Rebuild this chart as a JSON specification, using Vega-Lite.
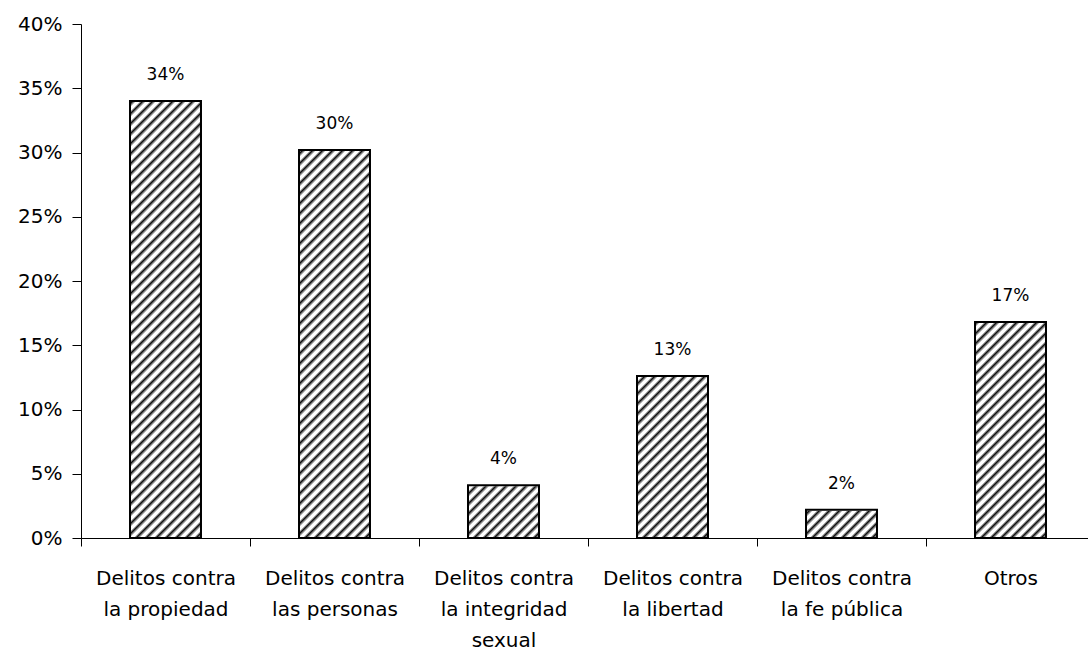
{
  "$schema": "https://vega.github.io/schema/vega-lite/v6.json",
  "autosize": "none",
  "padding": {"left": 81, "top": 24, "right": 0, "bottom": 114},
  "width": 1007,
  "height": 514,
  "background": "white",
  "config": {"view": {"stroke": null}, "font": "DejaVu Sans"},
  "data": {
    "values": [
      {"cat": "Delitos contra la propiedad", "v": 0.340},
      {"cat": "Delitos contra las personas", "v": 0.302},
      {"cat": "Delitos contra la integridad sexual", "v": 0.041},
      {"cat": "Delitos contra la libertad", "v": 0.126},
      {"cat": "Delitos contra la fe pública", "v": 0.022},
      {"cat": "Otros", "v": 0.168}
    ]
  },
  "encoding": {
    "x": {
      "field": "cat",
      "type": "nominal",
      "sort": null,
      "title": null,
      "scale": {"range": [0, 1014], "paddingInner": 0.58, "paddingOuter": 0.29},
      "axis": {
        "labelAngle": 0,
        "tickOffset": -84.5,
        "labelOffset": 84.5,
        "tickSize": 8,
        "labelPadding": 22,
        "labelFont": "DejaVu Sans",
        "labelFontSize": 20,
        "labelColor": "#000",
        "labelLineHeight": 31,
        "labelLimit": 300,
        "labelOverlap": false,
        "domainColor": "#000",
        "tickColor": "#000",
        "labelExpr": "datum.label == 'Otros' ? 'Otros' : (datum.label == 'Delitos contra la integridad sexual' ? ['Delitos contra', 'la integridad', 'sexual'] : ['Delitos contra', replace(datum.label, 'Delitos contra ', '')])"
      }
    },
    "y": {
      "field": "v",
      "type": "quantitative",
      "title": null,
      "scale": {"domain": [0, 0.4]},
      "axis": {
        "format": ".0%",
        "tickCount": 8,
        "grid": false,
        "tickSize": 9,
        "labelPadding": 10,
        "labelFont": "DejaVu Sans",
        "labelFontSize": 20,
        "labelColor": "#000",
        "domainColor": "#000",
        "tickColor": "#000"
      }
    }
  },
  "layer": [
    {
      "mark": {"type": "bar", "fill": "#9a9a9a", "strokeWidth": 0},
      "encoding": {
        "y": {"datum": 0.4, "type": "quantitative", "title": null},
        "y2": {"datum": 0}
      }
    },
    {
      "mark": {
        "type": "bar",
        "strokeWidth": 0,
        "fill": {
          "gradient": "linear",
          "x1": 0, "y1": 0, "x2": 0.26371, "y2": 1.9091,
          "stops": [
            {"offset": 0, "color": "#111"}, {"offset": 0.004, "color": "#fff"}, {"offset": 0.007, "color": "#fff"},
            {"offset": 0.01, "color": "#111"}, {"offset": 0.014, "color": "#fff"}, {"offset": 0.017, "color": "#fff"},
            {"offset": 0.02, "color": "#111"}, {"offset": 0.024, "color": "#fff"}, {"offset": 0.027, "color": "#fff"},
            {"offset": 0.03, "color": "#111"}, {"offset": 0.034, "color": "#fff"}, {"offset": 0.037, "color": "#fff"},
            {"offset": 0.04, "color": "#111"}, {"offset": 0.044, "color": "#fff"}, {"offset": 0.047, "color": "#fff"},
            {"offset": 0.05, "color": "#111"}, {"offset": 0.054, "color": "#fff"}, {"offset": 0.057, "color": "#fff"},
            {"offset": 0.06, "color": "#111"}, {"offset": 0.064, "color": "#fff"}, {"offset": 0.067, "color": "#fff"},
            {"offset": 0.07, "color": "#111"}, {"offset": 0.074, "color": "#fff"}, {"offset": 0.077, "color": "#fff"},
            {"offset": 0.08, "color": "#111"}, {"offset": 0.084, "color": "#fff"}, {"offset": 0.087, "color": "#fff"},
            {"offset": 0.09, "color": "#111"}, {"offset": 0.094, "color": "#fff"}, {"offset": 0.097, "color": "#fff"},
            {"offset": 0.10, "color": "#111"}, {"offset": 0.104, "color": "#fff"}, {"offset": 0.107, "color": "#fff"},
            {"offset": 0.11, "color": "#111"}, {"offset": 0.114, "color": "#fff"}, {"offset": 0.117, "color": "#fff"},
            {"offset": 0.12, "color": "#111"}, {"offset": 0.124, "color": "#fff"}, {"offset": 0.127, "color": "#fff"},
            {"offset": 0.13, "color": "#111"}, {"offset": 0.134, "color": "#fff"}, {"offset": 0.137, "color": "#fff"},
            {"offset": 0.14, "color": "#111"}, {"offset": 0.144, "color": "#fff"}, {"offset": 0.147, "color": "#fff"},
            {"offset": 0.15, "color": "#111"}, {"offset": 0.154, "color": "#fff"}, {"offset": 0.157, "color": "#fff"},
            {"offset": 0.16, "color": "#111"}, {"offset": 0.164, "color": "#fff"}, {"offset": 0.167, "color": "#fff"},
            {"offset": 0.17, "color": "#111"}, {"offset": 0.174, "color": "#fff"}, {"offset": 0.177, "color": "#fff"},
            {"offset": 0.18, "color": "#111"}, {"offset": 0.184, "color": "#fff"}, {"offset": 0.187, "color": "#fff"},
            {"offset": 0.19, "color": "#111"}, {"offset": 0.194, "color": "#fff"}, {"offset": 0.197, "color": "#fff"},
            {"offset": 0.20, "color": "#111"}, {"offset": 0.204, "color": "#fff"}, {"offset": 0.207, "color": "#fff"},
            {"offset": 0.21, "color": "#111"}, {"offset": 0.214, "color": "#fff"}, {"offset": 0.217, "color": "#fff"},
            {"offset": 0.22, "color": "#111"}, {"offset": 0.224, "color": "#fff"}, {"offset": 0.227, "color": "#fff"},
            {"offset": 0.23, "color": "#111"}, {"offset": 0.234, "color": "#fff"}, {"offset": 0.237, "color": "#fff"},
            {"offset": 0.24, "color": "#111"}, {"offset": 0.244, "color": "#fff"}, {"offset": 0.247, "color": "#fff"},
            {"offset": 0.25, "color": "#111"}, {"offset": 0.254, "color": "#fff"}, {"offset": 0.257, "color": "#fff"},
            {"offset": 0.26, "color": "#111"}, {"offset": 0.264, "color": "#fff"}, {"offset": 0.267, "color": "#fff"},
            {"offset": 0.27, "color": "#111"}, {"offset": 0.274, "color": "#fff"}, {"offset": 0.277, "color": "#fff"},
            {"offset": 0.28, "color": "#111"}, {"offset": 0.284, "color": "#fff"}, {"offset": 0.287, "color": "#fff"},
            {"offset": 0.29, "color": "#111"}, {"offset": 0.294, "color": "#fff"}, {"offset": 0.297, "color": "#fff"},
            {"offset": 0.30, "color": "#111"}, {"offset": 0.304, "color": "#fff"}, {"offset": 0.307, "color": "#fff"},
            {"offset": 0.31, "color": "#111"}, {"offset": 0.314, "color": "#fff"}, {"offset": 0.317, "color": "#fff"},
            {"offset": 0.32, "color": "#111"}, {"offset": 0.324, "color": "#fff"}, {"offset": 0.327, "color": "#fff"},
            {"offset": 0.33, "color": "#111"}, {"offset": 0.334, "color": "#fff"}, {"offset": 0.337, "color": "#fff"},
            {"offset": 0.34, "color": "#111"}, {"offset": 0.344, "color": "#fff"}, {"offset": 0.347, "color": "#fff"},
            {"offset": 0.35, "color": "#111"}, {"offset": 0.354, "color": "#fff"}, {"offset": 0.357, "color": "#fff"},
            {"offset": 0.36, "color": "#111"}, {"offset": 0.364, "color": "#fff"}, {"offset": 0.367, "color": "#fff"},
            {"offset": 0.37, "color": "#111"}, {"offset": 0.374, "color": "#fff"}, {"offset": 0.377, "color": "#fff"},
            {"offset": 0.38, "color": "#111"}, {"offset": 0.384, "color": "#fff"}, {"offset": 0.387, "color": "#fff"},
            {"offset": 0.39, "color": "#111"}, {"offset": 0.394, "color": "#fff"}, {"offset": 0.397, "color": "#fff"},
            {"offset": 0.40, "color": "#111"}, {"offset": 0.404, "color": "#fff"}, {"offset": 0.407, "color": "#fff"},
            {"offset": 0.41, "color": "#111"}, {"offset": 0.414, "color": "#fff"}, {"offset": 0.417, "color": "#fff"},
            {"offset": 0.42, "color": "#111"}, {"offset": 0.424, "color": "#fff"}, {"offset": 0.427, "color": "#fff"},
            {"offset": 0.43, "color": "#111"}, {"offset": 0.434, "color": "#fff"}, {"offset": 0.437, "color": "#fff"},
            {"offset": 0.44, "color": "#111"}, {"offset": 0.444, "color": "#fff"}, {"offset": 0.447, "color": "#fff"},
            {"offset": 0.45, "color": "#111"}, {"offset": 0.454, "color": "#fff"}, {"offset": 0.457, "color": "#fff"},
            {"offset": 0.46, "color": "#111"}, {"offset": 0.464, "color": "#fff"}, {"offset": 0.467, "color": "#fff"},
            {"offset": 0.47, "color": "#111"}, {"offset": 0.474, "color": "#fff"}, {"offset": 0.477, "color": "#fff"},
            {"offset": 0.48, "color": "#111"}, {"offset": 0.484, "color": "#fff"}, {"offset": 0.487, "color": "#fff"},
            {"offset": 0.49, "color": "#111"}, {"offset": 0.494, "color": "#fff"}, {"offset": 0.497, "color": "#fff"},
            {"offset": 0.50, "color": "#111"}, {"offset": 0.504, "color": "#fff"}, {"offset": 0.507, "color": "#fff"},
            {"offset": 0.51, "color": "#111"}, {"offset": 0.514, "color": "#fff"}, {"offset": 0.517, "color": "#fff"},
            {"offset": 0.52, "color": "#111"}, {"offset": 0.524, "color": "#fff"}, {"offset": 0.527, "color": "#fff"},
            {"offset": 0.53, "color": "#111"}, {"offset": 0.534, "color": "#fff"}, {"offset": 0.537, "color": "#fff"},
            {"offset": 0.54, "color": "#111"}, {"offset": 0.544, "color": "#fff"}, {"offset": 0.547, "color": "#fff"},
            {"offset": 0.55, "color": "#111"}, {"offset": 0.554, "color": "#fff"}, {"offset": 0.557, "color": "#fff"},
            {"offset": 0.56, "color": "#111"}, {"offset": 0.564, "color": "#fff"}, {"offset": 0.567, "color": "#fff"},
            {"offset": 0.57, "color": "#111"}, {"offset": 0.574, "color": "#fff"}, {"offset": 0.577, "color": "#fff"},
            {"offset": 0.58, "color": "#111"}, {"offset": 0.584, "color": "#fff"}, {"offset": 0.587, "color": "#fff"},
            {"offset": 0.59, "color": "#111"}, {"offset": 0.594, "color": "#fff"}, {"offset": 0.597, "color": "#fff"}
          ]
        }
      },
      "encoding": {
        "y": {"datum": 0.4, "type": "quantitative", "title": null},
        "y2": {"datum": 0}
      }
    },
    {
      "mark": {"type": "bar", "fill": "white", "stroke": "white", "strokeWidth": 2},
      "encoding": {
        "y2": {"datum": 0.4}
      }
    },
    {
      "mark": {"type": "bar", "fillOpacity": 0, "stroke": "#000", "strokeWidth": 2}
    },
    {
      "mark": {"type": "text", "baseline": "alphabetic", "dy": -21, "font": "DejaVu Sans", "fontSize": 17, "fill": "#000"},
      "encoding": {
        "text": {"field": "v", "type": "quantitative", "format": ".0%"}
      }
    }
  ]
}
